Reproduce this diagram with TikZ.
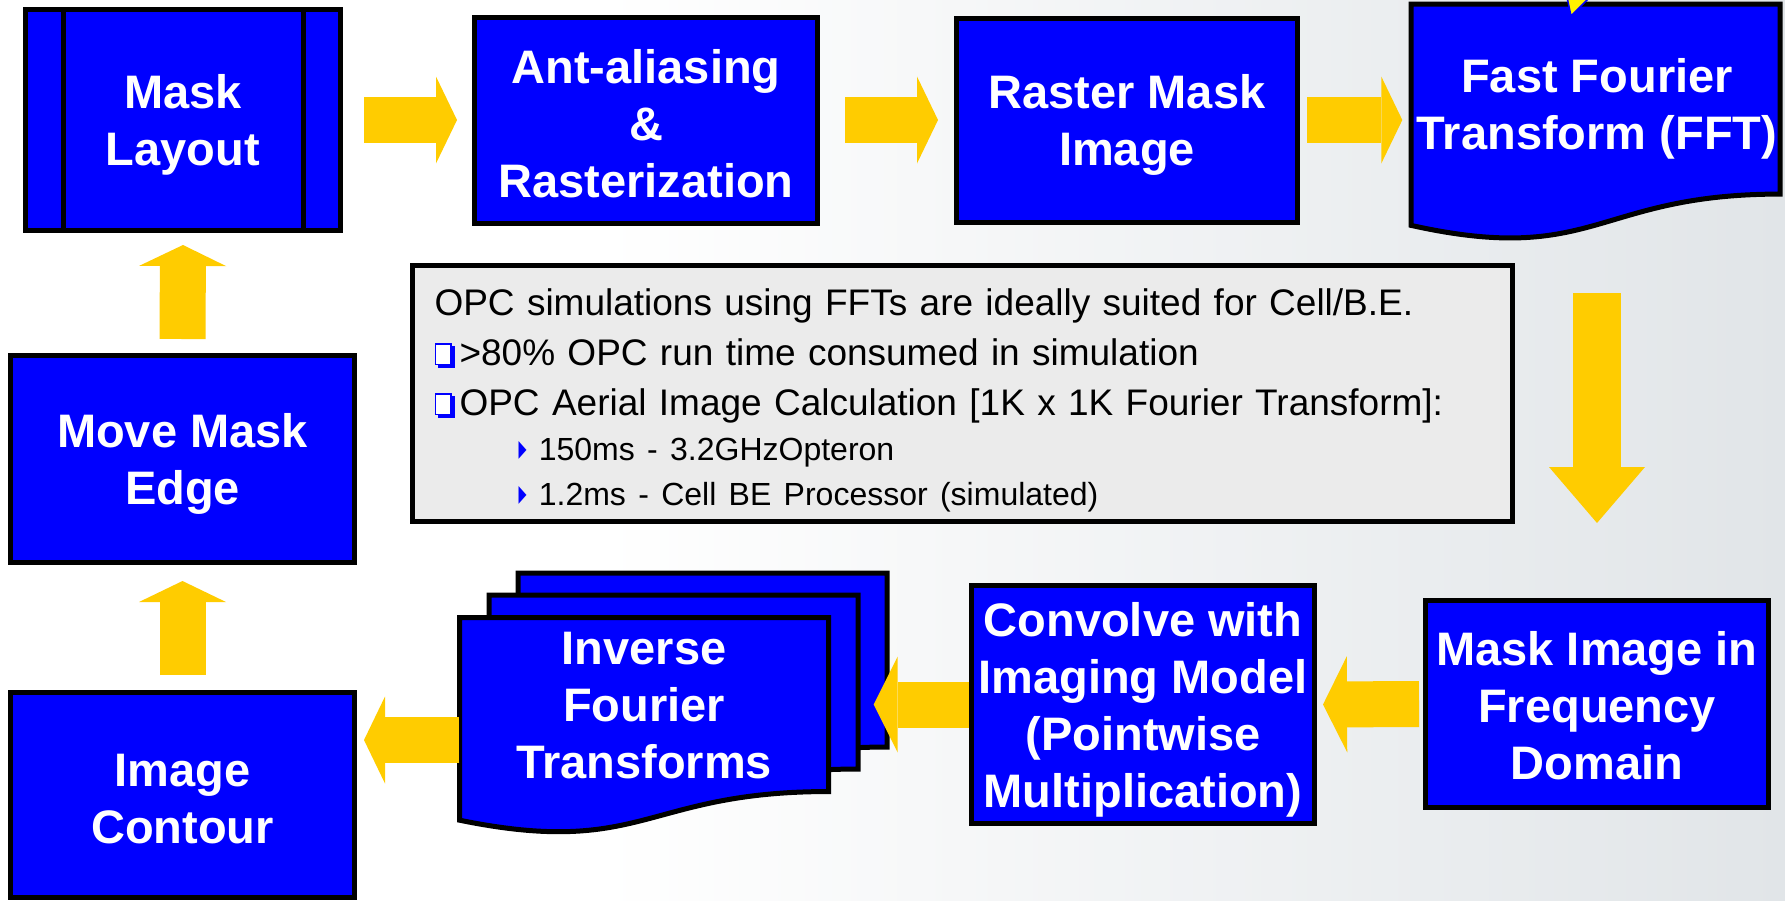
\documentclass[tikz,border=0pt]{standalone}
\usepackage{fontspec}
\setmainfont{Liberation Sans}
\newfontfamily\symfont{DejaVu Sans}
\usetikzlibrary{arrows.meta,calc}
\definecolor{boxblue}{HTML}{0000FF}
\definecolor{flowyellow}{HTML}{FFCC00}
\definecolor{notegray}{HTML}{EBEBEB}
\definecolor{bggray}{HTML}{E1E5E8}
\newcommand{\lift}{\rule{0pt}{44pt}}
\newcommand{\sqbul}{%
	\rlap{\hspace*{3pt}\raisebox{-3pt}{\textcolor{boxblue}{\rule{17pt}{22pt}}}}%
	\rlap{\textcolor{boxblue}{\rule{17pt}{22pt}}}%
	\rlap{\hspace*{1.5pt}\raisebox{1.5pt}{\textcolor{white}{\rule{14pt}{19pt}}}}%
	\hspace*{25pt}}
\newcommand{\tribul}{\raisebox{4pt}{\resizebox{8pt}{15pt}{\symfont\textcolor{boxblue}{▶}}}}
\newcommand{\docshape}[4]{%
	\filldraw[docbox] (#1,#2) -- ({#1+#3},#2) -- ({#1+#3},{#2+0.802*#4})
		.. controls ({#1+0.5*#3},{#2+0.802*#4}) and ({#1+0.5*#3},{#2+1.107*#4}) .. (#1,{#2+0.934*#4}) -- cycle;}
\begin{document}
\begin{tikzpicture}[x=1pt, y=-1pt,
		blubox/.style={draw=black, fill=boxblue, line width=5pt, inner sep=0pt, text=white, align=center, font=\fontsize{47}{57}\selectfont\bfseries},
		doctext/.style={inner sep=0pt, text=white, align=center, font=\fontsize{47}{57}\selectfont\bfseries},
		docbox/.style={draw=black, fill=boxblue, line width=5pt},
		note/.style={draw=black, fill=notegray, line width=5pt, text width=1056pt, inner xsep=22pt, inner ysep=0pt, minimum height=256pt, align=left, font=\fontsize{37}{50}\selectfont},
		flow/.style={draw=flowyellow, line width=46pt, -{Triangle[width=87pt, length=21pt, line width=0pt]}},
		bigflow/.style={draw=flowyellow, line width=46pt, -{Triangle[width=96pt, length=24pt, line width=0pt]}},
		downflow/.style={draw=flowyellow, line width=48pt, -{Triangle[width=96pt, length=56pt, line width=0pt]}}]
	\useasboundingbox (0,0) rectangle (1785,900);
	\fill[white] (0,0) rectangle (1785,900);
	\shade[left color=white, right color=bggray] (600,0) rectangle (1785,900);
	\docshape{1411}{4}{369}{237}
	\filldraw[fill=yellow, draw=boxblue, line width=1.5pt] (1567,-3) -- (1590,-3) -- (1571,16) -- cycle;
	\docshape{518}{573}{369}{217}
	\docshape{489}{595}{369}{217}
	\docshape{459.5}{617.5}{369}{217}
	\node[blubox, minimum width=315pt, minimum height=221pt] (mask) at (183,120) {\lift Mask\\Layout};
	\draw[line width=5pt] ([xshift=40pt]mask.north west) -- ([xshift=40pt]mask.south west) ([xshift=-40pt]mask.north east) -- ([xshift=-40pt]mask.south east);
	\node[blubox, minimum width=343pt, minimum height=206pt] (anti) at (646,120) {\rule{0pt}{41pt}Ant-aliasing\\\&\\Rasterization};
	\node[blubox, minimum width=341pt, minimum height=204pt] (raster) at (1127,120) {\lift Raster Mask\\Image};
	\node[doctext, minimum width=369pt, minimum height=200pt] (fft) at (1597,104) {\lift Fast Fourier\\Transform (FFT)};
	\node[blubox, minimum width=344pt, minimum height=207pt] (move) at (182.5,459) {\lift Move Mask\\Edge};
	\node[blubox, minimum width=344pt, minimum height=205pt] (contour) at (182.5,795) {\rule{0pt}{41pt}Image\\Contour};
	\node[blubox, minimum width=343pt, minimum height=207pt] (freq) at (1597,704) {\rule{0pt}{38pt}Mask Image in\\Frequency\\Domain};
	\node[blubox, minimum width=343pt, minimum height=238pt] (conv) at (1143,704.5) {\lift Convolve with\\Imaging Model\\(Pointwise\\Multiplication)};
	\node[doctext, minimum width=369pt, minimum height=182pt] (inv) at (644,706) {Inverse\\Fourier\\Transforms};
	\node[note] (note) at (962.5,393.5) {\noindent\rule{0pt}{40pt}OPC simulations using FFTs are ideally suited for Cell/B.E.\par
		\noindent\sqbul>80\% OPC run time consumed in simulation\par
		\noindent\sqbul OPC Aerial Image Calculation [1K x 1K Fourier Transform]:\par
		\fontsize{32}{45}\selectfont
		\noindent\hspace*{84pt}\tribul\ 150ms - 3.2GHzOpteron\par
		\noindent\hspace*{84pt}\tribul\ 1.2ms - Cell BE Processor (simulated)\par};
	\draw[flow] ([xshift=21pt]mask.east) -- ([xshift=-15pt]anti.west);
	\draw[flow] ([xshift=25pt]anti.east) -- ([xshift=-16pt]raster.west);
	\draw[flow] ([xshift=7pt]raster.east) -- ([xshift=-10pt]fft.west |- raster.east);
	\draw[downflow] ([yshift=-89pt]fft.south) -- ([yshift=75pt]freq.north);
	\draw[bigflow] ([xshift=-4pt]freq.west) -- ([xshift=6pt]conv.east);
	\draw[bigflow] (conv.west) -- ([xshift=45pt]inv.east |- conv.west);
	\draw[flow] ([shift={(0,34)}]inv.west) -- ([shift={(7,-55)}]contour.east);
	\draw[flow] ([yshift=15pt]contour.north) -- ([yshift=-16pt]move.south);
	\draw[flow] ([yshift=14pt]move.north) -- ([yshift=-12pt]mask.south);
\end{tikzpicture}
\end{document}
